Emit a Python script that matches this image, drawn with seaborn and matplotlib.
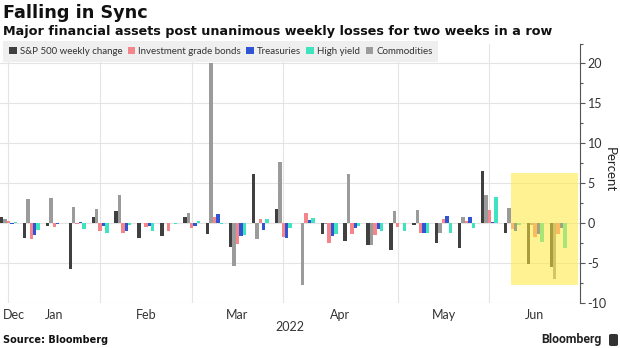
import matplotlib
matplotlib.use("Agg")
import matplotlib.pyplot as plt
import seaborn as sns
import pandas as pd
from matplotlib.patches import Patch, Rectangle, FancyBboxPatch
from matplotlib.ticker import MultipleLocator, FixedLocator

# Week-ending dates
weeks = ["2021-12-31", "2022-01-07", "2022-01-14", "2022-01-21", "2022-01-28",
         "2022-02-04", "2022-02-11", "2022-02-18", "2022-02-25", "2022-03-04",
         "2022-03-11", "2022-03-18", "2022-03-25", "2022-04-01", "2022-04-08",
         "2022-04-14", "2022-04-22", "2022-04-29", "2022-05-06", "2022-05-13",
         "2022-05-20", "2022-05-27", "2022-06-03", "2022-06-10", "2022-06-17"]

# Weekly changes, percent
spx = [0.85, -1.87, -0.30, -5.68, 0.77, 1.55, -1.82, -1.58, 0.82, -1.27,
       -2.88, 6.16, 1.79, 0.06, -1.27, -2.13, -2.75, -3.27, -0.21, -2.41,
       -3.05, 6.58, -1.20, -5.05, -5.40]
ig_bonds = [0.3, -1.9, -0.4, -0.05, -0.9, -1.2, -0.4, -0.9, -0.6, 0.8,
            -2.6, 0.6, -1.75, 1.3, -2.4, -1.3, -1.5, -0.45, -1.25, 0.6,
            0.35, 1.65, -0.75, -1.75, -1.3]
treasuries = [-0.1, -1.5, -0.1, 0.2, -0.3, -0.9, -0.35, 0.1, -0.3, 1.2,
              -1.55, -0.85, -1.85, 0.45, -1.6, -0.6, -0.65, 0.05, -1.2, 0.9,
              0.75, 0.2, -0.9, -1.3, -0.6]
high_yield = [0.15, -0.8, 0.05, -0.65, -1.2, -0.25, -1.0, -0.1, 0.3, -0.1,
              -1.5, 0.55, -0.6, 0.65, -1.3, -0.35, -0.95, -0.9, -1.2, -1.15,
              -0.6, 3.3, -0.25, -2.3, -3.05]
commodities = [0.5, 3.0, 3.2, 2.0, 1.85, 3.6, 0.05, 0.1, 1.3, 20.0,
               -5.35, -2.0, 7.7, -7.75, -0.1, 6.15, -2.65, 1.55, 1.7, -1.25,
               0.8, 3.5, 1.95, -0.15, -6.9]

legend_names = ["S&P 500 weekly change", "Investment grade bonds", "Treasuries",
                "High yield", "Commodities"]
bar_order = ["S&P 500 weekly change", "Commodities", "Investment grade bonds",
             "Treasuries", "High yield"]
colors = {"S&P 500 weekly change": "#404040",
          "Investment grade bonds": "#f4858a",
          "Treasuries": "#2f55d4",
          "High yield": "#3fe3c0",
          "Commodities": "#9b9b9b"}

series = dict(zip(legend_names, [spx, ig_bonds, treasuries, high_yield, commodities]))
df = pd.DataFrame([{"week": w, "series": name, "change": v}
                   for name, vals in series.items() for w, v in zip(weeks, vals)])

sns.set_style("white")
plt.rcParams["font.family"] = ["Lato", "DejaVu Sans"]
plt.rcParams["axes.unicode_minus"] = False

fig = plt.figure(figsize=(6.2, 3.48), dpi=100)
ax = fig.add_axes([0.0, 0.1279, 0.9355, 0.7471])

sns.barplot(data=df, x="week", y="change", hue="series", order=weeks,
            hue_order=bar_order, palette=colors, width=0.74, linewidth=0,
            saturation=1, legend=False, ax=ax, zorder=3)

xmin, xmax = -0.37, 24.96
ax.set_xlim(xmin, xmax)
ax.set_ylim(-10, 22.5)

# Month separators at the last week of each completed month
dates = pd.to_datetime(weeks)
month_ends = [i for i in range(len(dates) - 1) if dates[i].month != dates[i + 1].month]
edges = [xmin] + month_ends + [xmax]
centers = [(a + b) / 2 for a, b in zip(edges[:-1], edges[1:])]
centers[0] = xmin + 0.63
month_labels = [dates[0].strftime("%b")] + [dates[i + 1].strftime("%b") for i in month_ends]

ax.xaxis.set_major_locator(FixedLocator(month_ends))
ax.xaxis.set_minor_locator(FixedLocator(centers))
ax.set_xticklabels([""] * len(month_ends))
ax.set_xticklabels(month_labels, minor=True)
ax.tick_params(axis="x", which="both", length=0)
ax.tick_params(axis="x", which="minor", pad=4, labelsize=9, labelcolor="#333333")
ax.set_xlabel("")
ax.set_ylabel("")

ax.yaxis.tick_right()
ax.yaxis.set_major_locator(MultipleLocator(5))
ax.yaxis.set_minor_locator(MultipleLocator(2.5))
ax.tick_params(axis="y", which="major", length=3.5, width=0.8, color="#555555",
               labelsize=9, pad=2, labelcolor="#333333")
ax.tick_params(axis="y", which="minor", length=2, width=0.8, color="#555555")

ax.grid(axis="both", which="major", color="#e4e4e4", linewidth=0.8)
ax.set_axisbelow(True)
for side in ["left", "top", "bottom"]:
    ax.spines[side].set_visible(False)
ax.spines["right"].set_color("#555555")
ax.spines["right"].set_linewidth(0.8)

# Highlight of the last two weeks
ax.add_patch(Rectangle((21.95, -7.65), 24.87 - 21.95, 6.25 + 7.65,
                       facecolor="#ffe83a", alpha=0.55, edgecolor="none", zorder=6))

handles = [Patch(facecolor=colors[n], edgecolor="none") for n in legend_names]
leg = fig.legend(handles, legend_names, loc="upper left",
                 bbox_to_anchor=(3 / 620, 1 - 41 / 348), ncol=5, frameon=True,
                 facecolor="#efefef", edgecolor="none", fancybox=False, framealpha=1,
                 fontsize=7, handlelength=0.8, handleheight=0.8,
                 handletextpad=0.3, columnspacing=0.55, borderpad=0.6,
                 borderaxespad=0)
for t in leg.get_texts():
    t.set_color("#333333")

fig.text(3 / 620, 1 - 13 / 348, "Falling in Sync", fontsize=12.7, fontweight="bold",
         family="DejaVu Sans", va="center", color="#111111")
fig.text(3 / 620, 1 - 31 / 348,
         "Major financial assets post unanimous weekly losses for two weeks in a row",
         fontsize=9.2, fontweight="bold", family="DejaVu Sans", va="center",
         color="#111111")
fig.text(610 / 620, 1 - 170 / 348, "Percent", rotation=270, ha="center", va="center",
         fontsize=9.5, color="#222222")
fig.text(290 / 620, 1 - 327 / 348, "2022", ha="center", va="center", fontsize=9,
         color="#333333")
fig.text(3 / 620, 1 - 340 / 348, "Source: Bloomberg", fontsize=7, fontweight="bold",
         family="DejaVu Sans", va="center", color="#111111")
fig.text(601 / 620, 1 - 340 / 348, "Bloomberg", ha="right", va="center",
         fontsize=8.8, fontweight="bold", family="Roboto", color="#222222")
fig.patches.append(FancyBboxPatch((609 / 620, 2 / 348), 9 / 620, 12 / 348,
                                  boxstyle="round,pad=0,rounding_size=0.004",
                                  transform=fig.transFigure, facecolor="#333333",
                                  edgecolor="none"))

fig.savefig("out.png", dpi=100)
